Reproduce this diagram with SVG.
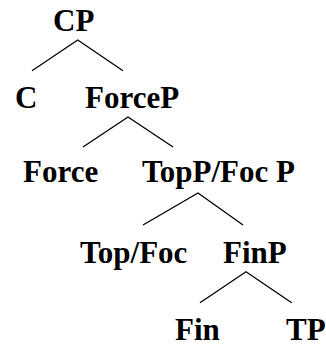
<svg xmlns="http://www.w3.org/2000/svg" width="326" height="344" viewBox="0 0 326 344">
  <style>
    .lbl { font-family: "Liberation Serif", "Times New Roman", serif; font-weight: bold; font-size: 31px; fill: #000; }
    .edge { stroke: #000; stroke-width: 1.3; fill: none; stroke-linecap: butt; }
  </style>
  <rect width="326" height="344" fill="#fff"/>
  <g id="connectors">
    <path class="edge" d="M32,70.7 L77.7,40 L123,70.7"/>
    <path class="edge" d="M83,147 L128,117 L173,147"/>
    <path class="edge" d="M143,225 L198,193 L243,225"/>
    <path class="edge" d="M200,302.7 L246,271.7 L291.7,302.7"/>
  </g>
  <g id="CP"><text class="lbl" x="53" y="31">CP</text></g>
  <g id="C"><text class="lbl" x="15" y="108">C</text></g>
  <g id="ForceP"><text class="lbl" x="85" y="108">ForceP</text></g>
  <g id="Force"><text class="lbl" x="23" y="182">Force</text></g>
  <g id="TopFocP"><text class="lbl" x="142" y="182">TopP/Foc P</text></g>
  <g id="TopFoc"><text class="lbl" x="80" y="263">Top/Foc</text></g>
  <g id="FinP"><text class="lbl" x="223" y="263">FinP</text></g>
  <g id="Fin"><text class="lbl" x="175" y="340">Fin</text></g>
  <g id="TP"><text class="lbl" x="286" y="340">TP</text></g>
</svg>
